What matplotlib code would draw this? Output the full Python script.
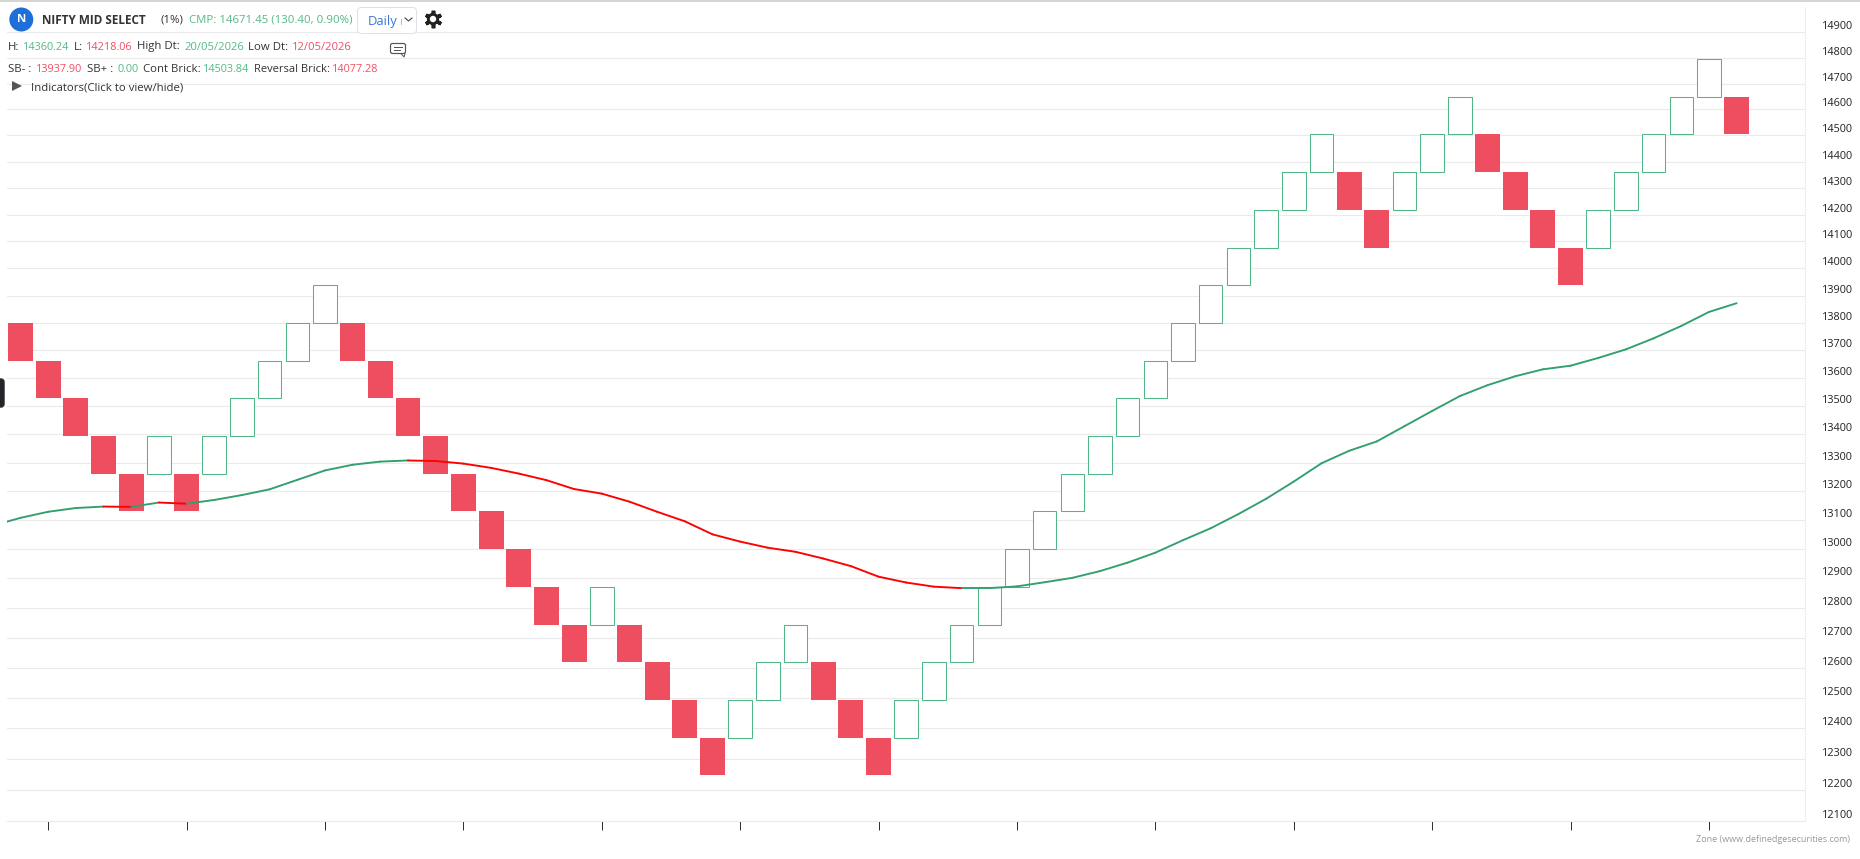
#!/usr/bin/env python

'''
Renko chart of NIFTY MID SELECT with moving average
'''

import numpy as np
from matplotlib import pyplot as plt
from matplotlib.patches import Circle, FancyBboxPatch, Polygon, RegularPolygon
from matplotlib.ticker import NullLocator
from matplotlib.transforms import ScaledTranslation

plt.rcParams['font.family'] = ['Open Sans', 'DejaVu Sans']

brick_open = [13799.9, 13663.3, 13528.0, 13394.1, 13261.5, 13261.5, 13261.5, 13261.5, 13394.1, 13528.0,
              13663.3, 13799.9, 13799.9, 13663.3, 13528.0, 13394.1, 13261.5, 13130.2, 13000.2, 12871.5,
              12744.1, 12744.1, 12744.1, 12617.9, 12493.0, 12369.3, 12369.3, 12493.0, 12617.9, 12617.9,
              12493.0, 12369.3, 12369.3, 12493.0, 12617.9, 12744.1, 12871.5, 13000.2, 13130.2, 13261.5,
              13394.1, 13528.0, 13663.3, 13799.9, 13937.9, 14077.28, 14218.06, 14360.24, 14360.24, 14218.06,
              14218.06, 14360.24, 14503.84, 14503.84, 14360.24, 14218.06, 14077.28, 14077.28, 14218.06, 14360.24,
              14503.84, 14648.88, 14648.88]
brick_close = [13663.3, 13528.0, 13394.1, 13261.5, 13130.2, 13394.1, 13130.2, 13394.1, 13528.0, 13663.3,
               13799.9, 13937.9, 13663.3, 13528.0, 13394.1, 13261.5, 13130.2, 13000.2, 12871.5, 12744.1,
               12617.9, 12871.5, 12617.9, 12493.0, 12369.3, 12246.8, 12493.0, 12617.9, 12744.1, 12493.0,
               12369.3, 12246.8, 12493.0, 12617.9, 12744.1, 12871.5, 13000.2, 13130.2, 13261.5, 13394.1,
               13528.0, 13663.3, 13799.9, 13937.9, 14077.28, 14218.06, 14360.24, 14503.84, 14218.06, 14077.28,
               14360.24, 14503.84, 14648.88, 14360.24, 14218.06, 14077.28, 13937.9, 14218.06, 14360.24, 14503.84,
               14648.88, 14795.37, 14503.84]

# moving average, first value belongs to the brick just left of the window
ma_values = [13081, 13108, 13129, 13142, 13147, 13146, 13161, 13157, 13170, 13187,
             13207, 13240, 13273, 13293, 13304, 13308, 13306, 13297, 13282, 13262,
             13239, 13208, 13192, 13164, 13129, 13096, 13051, 13026, 13005, 12991,
             12968, 12942, 12906, 12886, 12872, 12867, 12867, 12873, 12887, 12902,
             12925, 12954, 12988, 13031, 13072, 13121, 13174, 13234, 13298, 13342,
             13375, 13429, 13483, 13536, 13575, 13607, 13632, 13645, 13673, 13704,
             13744, 13789, 13840, 13872]
ma_falling = [(3, 4), (5, 6), (14, 34)]

y_ticks = [12100, 12200, 12300, 12400, 12500, 12600, 12700, 12800, 12900, 13000,
           13100, 13200, 13300, 13400, 13500, 13600, 13700, 13800, 13900, 14000,
           14100, 14200, 14300, 14400, 14500, 14600, 14700, 14800, 14900]
x_ticks = [1, 6, 11, 16, 21, 26, 31, 36, 41, 46, 51, 56, 61]

RED = '#ee4e5f'
GREEN = '#52b788'
GRID = '#ebebeb'
W, H = 1860, 859
PX = 72. / 100.

fig = plt.figure(figsize=(W / 100., H / 100.), dpi=100, facecolor='white')
ax = fig.add_axes([7. / W, 1 - 821. / H, 1798. / W, 814. / H])
ax.set_yscale('log')
ax.set_xlim(-0.4877, 64.47)
ax.set_ylim(12100, 15000)

for i in range(len(brick_open)):
    low = min(brick_open[i], brick_close[i])
    high = max(brick_open[i], brick_close[i])
    if brick_close[i] < brick_open[i]:
        ax.bar(i, high - low, bottom=low, width=0.90, color=RED, linewidth=0, zorder=3)
    else:
        ax.bar(i, high - low, bottom=low, width=0.85, facecolor='white', edgecolor=GREEN,
               linewidth=1.05 * PX, zorder=3)

ma_x = np.arange(len(ma_values)) - 1
for i in range(len(ma_values) - 1):
    # index of the segment in brick numbering
    n = ma_x[i]
    falling = any(a <= n < b for a, b in ma_falling)
    ax.plot(ma_x[i:i + 2], ma_values[i:i + 2], color='#ff0000' if falling else '#339f6f',
            linewidth=1.9 * PX, solid_capstyle='round', zorder=4)

ax.yaxis.set_minor_locator(NullLocator())
ax.set_yticks(y_ticks)
ax.set_yticklabels([str(v) for v in y_ticks])
ax.yaxis.tick_right()
ax.tick_params(axis='y', length=0, pad=17 * PX, labelsize=10.9 * PX, labelcolor='#222222')
shift = ScaledTranslation(0, 7. / 72. * PX, fig.dpi_scale_trans)
for label in ax.get_yticklabels():
    label.set_transform(label.get_transform() + shift)

ax.set_xticks(x_ticks)
ax.set_xticklabels([])
ax.tick_params(axis='x', length=9 * PX, width=1 * PX, color='#333333')

ax.grid(axis='y', color=GRID, linewidth=1.1 * PX, zorder=0)
ax.set_axisbelow(True)
for s in ['top', 'left']:
    ax.spines[s].set_visible(False)
ax.spines['bottom'].set_color(GRID)
ax.spines['bottom'].set_linewidth(1.1 * PX)
ax.spines['right'].set_color('#efefef')
ax.spines['right'].set_linewidth(1.1 * PX)

# header drawn on a pixel overlay
ui = fig.add_axes([0, 0, 1, 1], facecolor='none')
ui.set_xlim(0, W)
ui.set_ylim(H, 0)
ui.axis('off')

ui.plot([0, W], [0.5, 0.5], color='#c8c8c8', linewidth=1.5 * PX)
ui.add_patch(FancyBboxPatch((-3, 379), 7, 28, boxstyle='round,pad=0,rounding_size=3', facecolor='#23252b',
                            edgecolor='#23252b', linewidth=1))

ui.add_patch(Circle((21.3, 19.5), 12, facecolor='#1f6fd8', edgecolor='none'))
ui.text(21.3, 20, 'N', color='white', fontsize=11.5 * PX, fontweight='bold', ha='center', va='center')

BLACK = '#333333'
TXT_GREEN = '#53b987'
TXT_RED = '#ef4f64'
header = [
    (42.3, 20.3, 'NIFTY MID SELECT', BLACK, 'bold', 11.8),
    (160, 20.3, '(1%)', BLACK, 'normal', 11.4),
    (189, 20.3, 'CMP: 14671.45 (130.40, 0.90%)', TXT_GREEN, 'normal', 11.35),
    (8, 47, 'H:', BLACK, 'normal', 11.4),
    (23, 47, '14360.24', TXT_GREEN, 'normal', 10.9),
    (74, 47, 'L:', BLACK, 'normal', 11.4),
    (86, 47, '14218.06', TXT_RED, 'normal', 10.9),
    (137, 47, 'High Dt:', BLACK, 'normal', 11.4),
    (184, 47, '20/05/2026', TXT_GREEN, 'normal', 11.3),
    (248, 47, 'Low Dt:', BLACK, 'normal', 11.4),
    (292, 47, '12/05/2026', TXT_RED, 'normal', 11.3),
    (8, 69, 'SB- :', BLACK, 'normal', 11.4),
    (36, 69, '13937.90', TXT_RED, 'normal', 10.9),
    (87, 69, 'SB+ :', BLACK, 'normal', 11.4),
    (117, 69, '0.00', TXT_GREEN, 'normal', 10.9),
    (143, 69, 'Cont Brick:', BLACK, 'normal', 11.4),
    (203, 69, '14503.84', TXT_GREEN, 'normal', 10.9),
    (254, 69, 'Reversal Brick:', BLACK, 'normal', 11.1),
    (332, 69, '14077.28', TXT_RED, 'normal', 10.9),
    (31, 88.3, 'Indicators(Click to view/hide)', BLACK, 'normal', 11.4),
]
for x, y, s, c, w, size in header:
    ui.text(x, y, s, color=c, fontsize=size * PX, fontweight=w, ha='left', va='center')

ui.add_patch(Polygon([(12, 81), (22, 86), (12, 91)], closed=True, facecolor='#555555', edgecolor='none'))

# period dropdown
ui.add_patch(FancyBboxPatch((357.5, 7.5), 59, 26, boxstyle='round,pad=0,rounding_size=4', facecolor='white',
                            edgecolor='#dfe1e8', linewidth=1 * PX, zorder=5))
ui.text(368, 22, 'Daily', color='#3b78d8', fontsize=13 * PX, ha='left', va='center', zorder=6)
ui.plot([400.5, 400.5], [19, 24], color='#e9a6c8', linewidth=1 * PX, zorder=6)
ui.plot([405, 408.5, 412], [18, 21, 18], color='#444444', linewidth=1.1 * PX, zorder=6)

# settings cog
ui.plot([433], [19], marker=(6, 2, 0), markersize=17.5 * PX, markeredgewidth=3.6 * PX, color='#222222', zorder=6)
ui.add_patch(RegularPolygon((433, 19), 6, radius=7, facecolor='#222222', edgecolor='none', zorder=6))
ui.add_patch(Circle((433, 19), 3.2, facecolor='white', edgecolor='none', zorder=7))

# comment icon
ui.add_patch(FancyBboxPatch((390.5, 43.5), 15, 10, boxstyle='round,pad=0,rounding_size=2', facecolor='white',
                            edgecolor='#555555', linewidth=1.2 * PX, zorder=5))
ui.add_patch(Polygon([(401, 53.5), (404, 57), (405, 53.5)], closed=True, facecolor='white',
                     edgecolor='#555555', linewidth=1 * PX, zorder=6))
ui.plot([394, 402], [47, 47], color='#555555', linewidth=1 * PX, zorder=6)
ui.plot([394, 400], [50, 50], color='#555555', linewidth=1 * PX, zorder=6)

ui.text(1850, 839, 'Zone (www.definedgesecurities.com)', color='#999999', fontsize=9 * PX, ha='right', va='center')

fig.savefig('out.png', dpi=100, facecolor='white')
plt.close(fig)
